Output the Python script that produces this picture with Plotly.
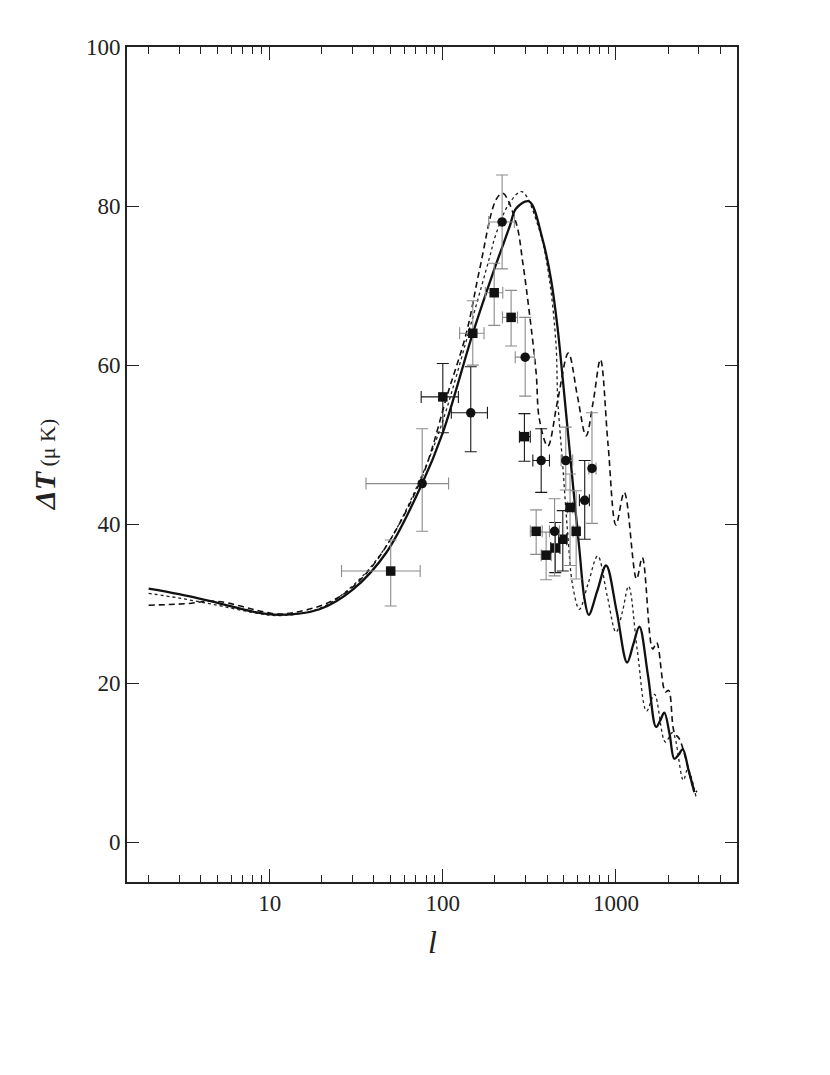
import math

import plotly.graph_objects as go

# theory curves: multipole l and temperature anisotropy (uK)
solid_l = [2.0, 3.0, 5.0, 8.0, 11.4, 19.4, 30.3, 47.1, 76, 100, 149, 195, 243, 265, 314,
           377, 422, 461, 493, 519, 563, 615, 658, 696, 780, 877, 1010, 1159, 1260, 1365,
           1530, 1704, 1800, 1902, 2040, 2172, 2300, 2427, 2630, 2833]
solid_dt = [31.9, 31.2, 30.1, 29.0, 28.6, 29.3, 31.8, 36.4, 45.1, 51.5, 64.0, 71.6, 77.4, 79.7, 80.6,
            75.8, 70.7, 64.5, 58.2, 53.2, 45.2, 36.8, 30.6, 28.6, 31.6, 34.8, 29.0, 22.6, 24.9, 27.1,
            21.0, 14.5, 15.3, 16.3, 13.6, 10.5, 11.0, 11.7, 9.0, 6.3]

dotted_l = [2.0, 3.0, 5.0, 8.0, 11.4, 19.4, 30.0, 47.0, 76, 100, 149, 186, 203, 243, 286,
            361, 413, 451, 461, 493, 526, 563, 615, 690, 784, 890, 1000, 1090, 1183, 1330,
            1503, 1667, 1929, 2124, 2448, 2594, 2899]
dotted_dt = [31.3, 30.7, 29.8, 28.9, 28.5, 29.4, 32.2, 37.2, 46.2, 53.0, 66.0, 73.5, 76.5, 80.4, 81.8,
             77.0, 70.7, 62.4, 55.7, 47.3, 38.9, 32.2, 29.3, 32.5, 36.0, 31.0, 26.4, 29.0, 32.2, 24.0,
             16.5, 18.6, 12.6, 13.8, 7.8, 9.2, 5.7]

dashed_l = [2.0, 3.3, 4.9, 9.6, 12.0, 23.2, 37.8, 73.5, 107, 137, 163, 203, 222, 265, 290,
            316, 346, 361, 404, 460, 531, 600, 672, 740, 813, 900, 1000, 1117, 1315, 1419,
            1629, 1718, 1929, 2014, 2172, 2323, 2594, 2773, 2938]
dashed_dt = [29.8, 30.0, 30.3, 28.9, 28.7, 30.4, 34.3, 45.2, 56.5, 64.1, 72.0, 80.8, 81.6, 77.9, 72.8,
             66.6, 59.0, 53.2, 49.8, 55.5, 61.5, 56.0, 51.1, 55.5, 60.7, 50.0, 39.9, 44.0, 33.1, 35.8,
             24.3, 25.1, 18.9, 19.1, 13.8, 13.0, 9.6, 7.1, 6.3]

# measurements
pt_l = [50, 76, 100, 145, 149, 198, 248, 299, 220, 296, 370, 346, 395, 442, 446, 493, 513, 543, 589, 660, 727]
pt_dt = [34.1, 45.1, 56.0, 54.0, 64.0, 69.1, 66.0, 61.0, 78.0, 51.0, 48.0, 39.1, 36.1, 39.1, 37.0, 38.1, 48.0,
         42.1, 39.1, 43.0, 47.0]
pt_l_lo = [26, 36, 75, 112, 125, 176, 221, 262, 184, 277, 331, 320, 370, 413, 420, 470, 482, 525, 565, 615, 697]
pt_l_hi = [74, 108, 123, 181, 173, 222, 270, 338, 259, 320, 413, 375, 423, 471, 475, 520, 562, 562, 612, 702, 767]
pt_dt_lo = [29.7, 39.1, 51.5, 49.1, 60.0, 65.0, 62.4, 56.1, 72.1, 47.9, 44.0, 36.2, 33.0, 33.5, 33.9, 34.1, 44.3,
            34.8, 33.1, 38.1, 40.1]
pt_dt_hi = [38.0, 52.0, 60.2, 59.8, 68.1, 72.8, 69.4, 66.0, 83.9, 53.9, 52.0, 41.8, 39.0, 43.2, 40.2, 41.7, 52.2,
            46.3, 44.2, 48.0, 54.0]
pt_sym = ["square", "circle", "square", "circle", "square", "square", "square", "circle", "circle", "square",
          "circle", "square", "square", "circle", "square", "square", "circle", "square", "square", "circle",
          "circle"]
pt_err = ["g", "g", "k", "k", "g", "g", "g", "g", "g", "k", "k", "g", "g", "g", "k", "k", "g", "g", "g", "k", "g"]

y_ticks = [0, 20, 40, 60, 80, 100]
x_ticks = [10, 100, 1000]
x_minor = [2, 3, 4, 5, 6, 7, 8, 9, 20, 30, 40, 50, 60, 70, 80, 90,
           200, 300, 400, 500, 600, 700, 800, 900, 2000, 3000, 4000]

SERIF = "Liberation Serif, Times New Roman, serif"
ERR_COLORS = {"g": "#8c8c8c", "k": "#1a1a1a"}

fig = go.Figure()

fig.add_trace(go.Scatter(x=dotted_l, y=dotted_dt, mode="lines", line_shape="spline",
                         line=dict(color="#222222", width=1.3, dash="dot"), showlegend=False))
fig.add_trace(go.Scatter(x=dashed_l, y=dashed_dt, mode="lines", line_shape="spline",
                         line=dict(color="#111111", width=1.6, dash="6px,4px"), showlegend=False))
fig.add_trace(go.Scatter(x=solid_l, y=solid_dt, mode="lines", line_shape="spline",
                         line=dict(color="#111111", width=2.3), showlegend=False))

for sym in ("square", "circle"):
    for col in ("g", "k"):
        idx = [i for i in range(len(pt_l)) if pt_sym[i] == sym and pt_err[i] == col]
        if not idx:
            continue
        xs = [pt_l[i] for i in idx]
        ys = [pt_dt[i] for i in idx]
        ecol = ERR_COLORS[col]
        fig.add_trace(go.Scatter(
            x=xs, y=ys, mode="markers",
            marker=dict(symbol=sym, size=9.5, color="#111111", line=dict(width=0)),
            error_x=dict(type="data", symmetric=False,
                         array=[pt_l_hi[i] - pt_l[i] for i in idx],
                         arrayminus=[pt_l[i] - pt_l_lo[i] for i in idx],
                         color=ecol, thickness=1.1, width=6),
            error_y=dict(type="data", symmetric=False,
                         array=[pt_dt_hi[i] - pt_dt[i] for i in idx],
                         arrayminus=[pt_dt[i] - pt_dt_lo[i] for i in idx],
                         color=ecol, thickness=1.1, width=6),
            showlegend=False,
        ))

fig.update_xaxes(
    type="log", range=[math.log10(1.5), math.log10(5000)],
    tickmode="array", tickvals=x_ticks, ticktext=[str(v) for v in x_ticks],
    ticks="inside", ticklen=13, tickwidth=1.3, tickcolor="#222",
    minor=dict(tickmode="array", tickvals=x_minor, ticks="inside", ticklen=7,
               tickwidth=1.2, tickcolor="#222", showgrid=False),
    showline=True, linecolor="#222", linewidth=1.6, mirror="ticks",
    showgrid=False, zeroline=False, ticklabelstandoff=0,
    tickfont=dict(family=SERIF, size=23, color="#222"),
)
fig.update_yaxes(
    range=[-5, 100], tickmode="array", tickvals=y_ticks,
    ticks="inside", ticklen=12, tickwidth=1.3, tickcolor="#222",
    showline=True, linecolor="#222", linewidth=1.6, mirror="ticks",
    showgrid=False, zeroline=False, ticklabelstandoff=0,
    tickfont=dict(family=SERIF, size=23, color="#222"),
)

fig.add_annotation(
    text="<b><i>ΔT</i></b><span style='font-size:22px'> (μ K)</span>",
    xref="paper", yref="paper", x=-0.135, y=0.5, xanchor="center", yanchor="middle",
    textangle=-90, showarrow=False, font=dict(family=SERIF, size=30, color="#222"),
)
fig.add_annotation(
    text="<i>l</i>", xref="paper", yref="paper", x=0.5, y=-0.072,
    xanchor="center", yanchor="middle", showarrow=False,
    font=dict(family=SERIF, size=32, color="#222"),
)

# the page body adds an 8px offset, so the figure is trimmed to keep the frame in place
fig.update_layout(
    width=822, height=1067,
    margin=dict(l=119, r=93, t=39, b=193),
    paper_bgcolor="white", plot_bgcolor="white",
    font=dict(family=SERIF, color="#222"),
)

fig.write_html("out.html")
